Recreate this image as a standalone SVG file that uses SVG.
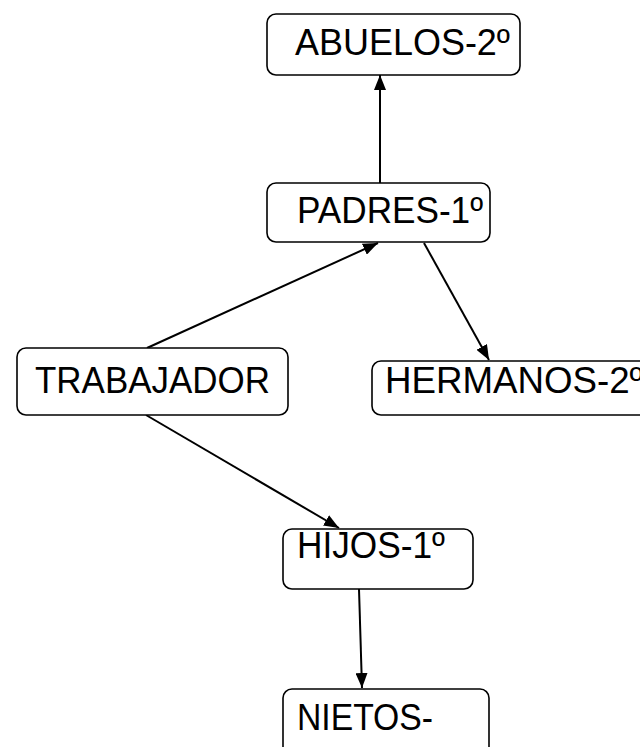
<svg xmlns="http://www.w3.org/2000/svg" width="640" height="747" viewBox="0 0 640 747">
<defs>
<style>
.box{fill:#fff;stroke:#000;stroke-width:1.6}
.lbl{font-family:"Liberation Sans","Noto Sans",sans-serif;font-size:37.5px;fill:#000}
.edge{stroke:#000;stroke-width:2;fill:none;marker-end:url(#ah)}
</style>
<marker id="ah" markerUnits="userSpaceOnUse" viewBox="0 0 15 12" refX="15" refY="6" markerWidth="15" markerHeight="12" orient="auto">
<path d="M0,0 L15,6 L0,12 z" fill="#000"/>
</marker>
</defs>
<rect width="640" height="747" fill="#fff"/>
<g id="connectors">
<line class="edge" x1="380" y1="183" x2="380" y2="75"/>
<line class="edge" x1="147" y1="348" x2="378" y2="243"/>
<line class="edge" x1="424" y1="243" x2="489" y2="360"/>
<line class="edge" x1="146" y1="415" x2="339" y2="528"/>
<line class="edge" x1="359" y1="589" x2="362" y2="688"/>
</g>
<g id="abuelos">
<rect class="box" x="267" y="14" width="253" height="61" rx="9"/>
<text class="lbl" x="295" y="55" textLength="215" lengthAdjust="spacingAndGlyphs">ABUELOS-2º</text>
</g>
<g id="padres">
<rect class="box" x="267" y="183" width="223" height="59" rx="9"/>
<text class="lbl" x="297" y="223" textLength="186" lengthAdjust="spacingAndGlyphs">PADRES-1º</text>
</g>
<g id="trabajador">
<rect class="box" x="17" y="348" width="271" height="67" rx="9"/>
<text class="lbl" x="35" y="393" textLength="235" lengthAdjust="spacingAndGlyphs">TRABAJADOR</text>
</g>
<g id="hermanos">
<rect class="box" x="372" y="361" width="290" height="54" rx="9"/>
<text class="lbl" x="385" y="393" textLength="258" lengthAdjust="spacingAndGlyphs">HERMANOS-2º</text>
</g>
<g id="hijos">
<rect class="box" x="283" y="529" width="190" height="60" rx="9"/>
<text class="lbl" x="297" y="558" textLength="148" lengthAdjust="spacingAndGlyphs">HIJOS-1º</text>
</g>
<g id="nietos">
<rect class="box" x="283" y="689" width="206" height="80" rx="9"/>
<text class="lbl" x="297" y="730" textLength="136" lengthAdjust="spacingAndGlyphs">NIETOS-</text>
</g>
</svg>
